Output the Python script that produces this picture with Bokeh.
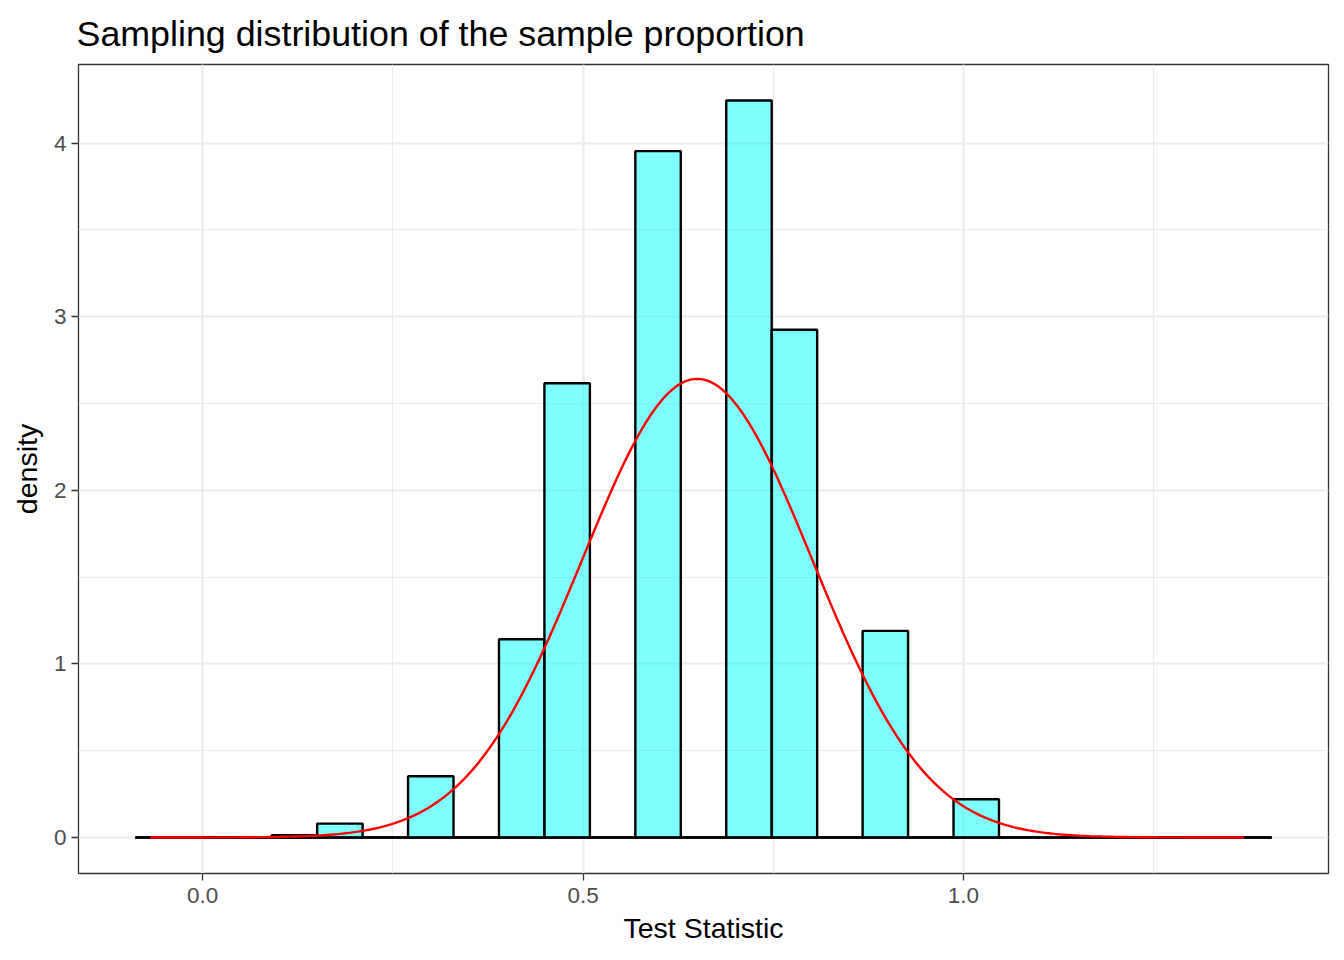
import numpy as np
from bokeh.plotting import figure
from bokeh.models import FixedTicker, Range1d, ColumnDataSource
from bokeh.embed import file_html
from bokeh.resources import INLINE

# ---- data ----
title_text = "Sampling distribution of the sample proportion"
x_label = "Test Statistic"
y_label = "density"

bin_start = -0.0886
bin_width = 0.05975
densities = [0, 0, 0, 0.013, 0.08, 0, 0.353, 0, 1.142, 2.617, 0, 3.954, 0,
             4.246, 2.925, 0, 1.19, 0, 0.2205, 0, 0, 0, 0, 0, 0]

curve_mean = 0.65
curve_sd = 0.151
curve_from = -0.069
curve_to = 1.369

x_ticks = [0.0, 0.5, 1.0]
x_tick_labels = ["0.0", "0.5", "1.0"]
x_minor = [0.25, 0.75, 1.25]
y_ticks = [0, 1, 2, 3, 4]
y_tick_labels = ["0", "1", "2", "3", "4"]
y_minor = [0.5, 1.5, 2.5, 3.5]

# ---- derived ----
n = len(densities)
lefts = [bin_start + i * bin_width for i in range(n)]
rights = [l + bin_width for l in lefts]
bars = ColumnDataSource(dict(left=lefts, right=rights, top=densities,
                             bottom=[0] * n))

cx = np.linspace(curve_from, curve_to, 301)
cy = np.exp(-0.5 * ((cx - curve_mean) / curve_sd) ** 2) / (curve_sd * np.sqrt(2 * np.pi))

FONT = "Liberation Sans"

p = figure(width=1336, height=952, output_backend="svg", toolbar_location=None,
           x_range=Range1d(-0.1633, 1.4798), y_range=Range1d(-0.2075, 4.453),
           min_border_left=78, min_border_right=8, min_border_top=64,
           min_border_bottom=79)

p.title.text = title_text
p.title.text_font = FONT
p.title.text_font_size = "35.8px"
p.title.text_font_style = "normal"
p.title.text_color = "black"
p.title.align = "left"
p.title.standoff = 21
p.title.offset = -2

p.background_fill_color = "white"
p.border_fill_color = "white"
p.outline_line_color = "#333333"
p.outline_line_width = 1.3

# grids
p.xgrid.ticker = FixedTicker(ticks=x_ticks, minor_ticks=x_minor)
p.ygrid.ticker = FixedTicker(ticks=y_ticks, minor_ticks=y_minor)
for g in (p.xgrid, p.ygrid):
    g.grid_line_color = "#EBEBEB"
    g.grid_line_width = 2.2
    g.minor_grid_line_color = "#EBEBEB"
    g.minor_grid_line_width = 1.1

# axes
p.xaxis.ticker = FixedTicker(ticks=x_ticks, minor_ticks=x_minor)
p.yaxis.ticker = FixedTicker(ticks=y_ticks, minor_ticks=y_minor)
p.xaxis.major_label_overrides = dict(zip(x_ticks, x_tick_labels))
p.yaxis.major_label_overrides = dict(zip(y_ticks, y_tick_labels))
p.xaxis.axis_label = x_label
p.yaxis.axis_label = y_label
for ax in (p.xaxis, p.yaxis):
    ax.axis_line_color = None
    ax.major_tick_line_color = "#333333"
    ax.major_tick_line_width = 1.3
    ax.major_tick_out = 7
    ax.major_tick_in = 0
    ax.minor_tick_line_color = None
    ax.major_label_text_font = FONT
    ax.major_label_text_font_size = "22.5px"
    ax.major_label_text_color = "#4D4D4D"
    ax.axis_label_text_font = FONT
    ax.axis_label_text_font_size = "28.5px"
    ax.axis_label_text_font_style = "normal"
    ax.axis_label_text_color = "black"
p.xaxis.major_label_standoff = 7
p.xaxis.axis_label_standoff = 6
p.yaxis.major_label_standoff = 5
p.yaxis.axis_label_standoff = 8

# histogram
p.segment(x0=lefts[0], y0=0, x1=rights[-1], y1=0, line_color="black", line_width=2.4)
p.quad(left="left", right="right", top="top", bottom="bottom", source=bars,
       fill_color="#00FFFF", fill_alpha=0.5, line_color="black", line_width=2.4)

# normal curve
p.line(cx, cy, line_color="red", line_width=2.4)

open("out.html", "w").write(file_html(p, INLINE))
